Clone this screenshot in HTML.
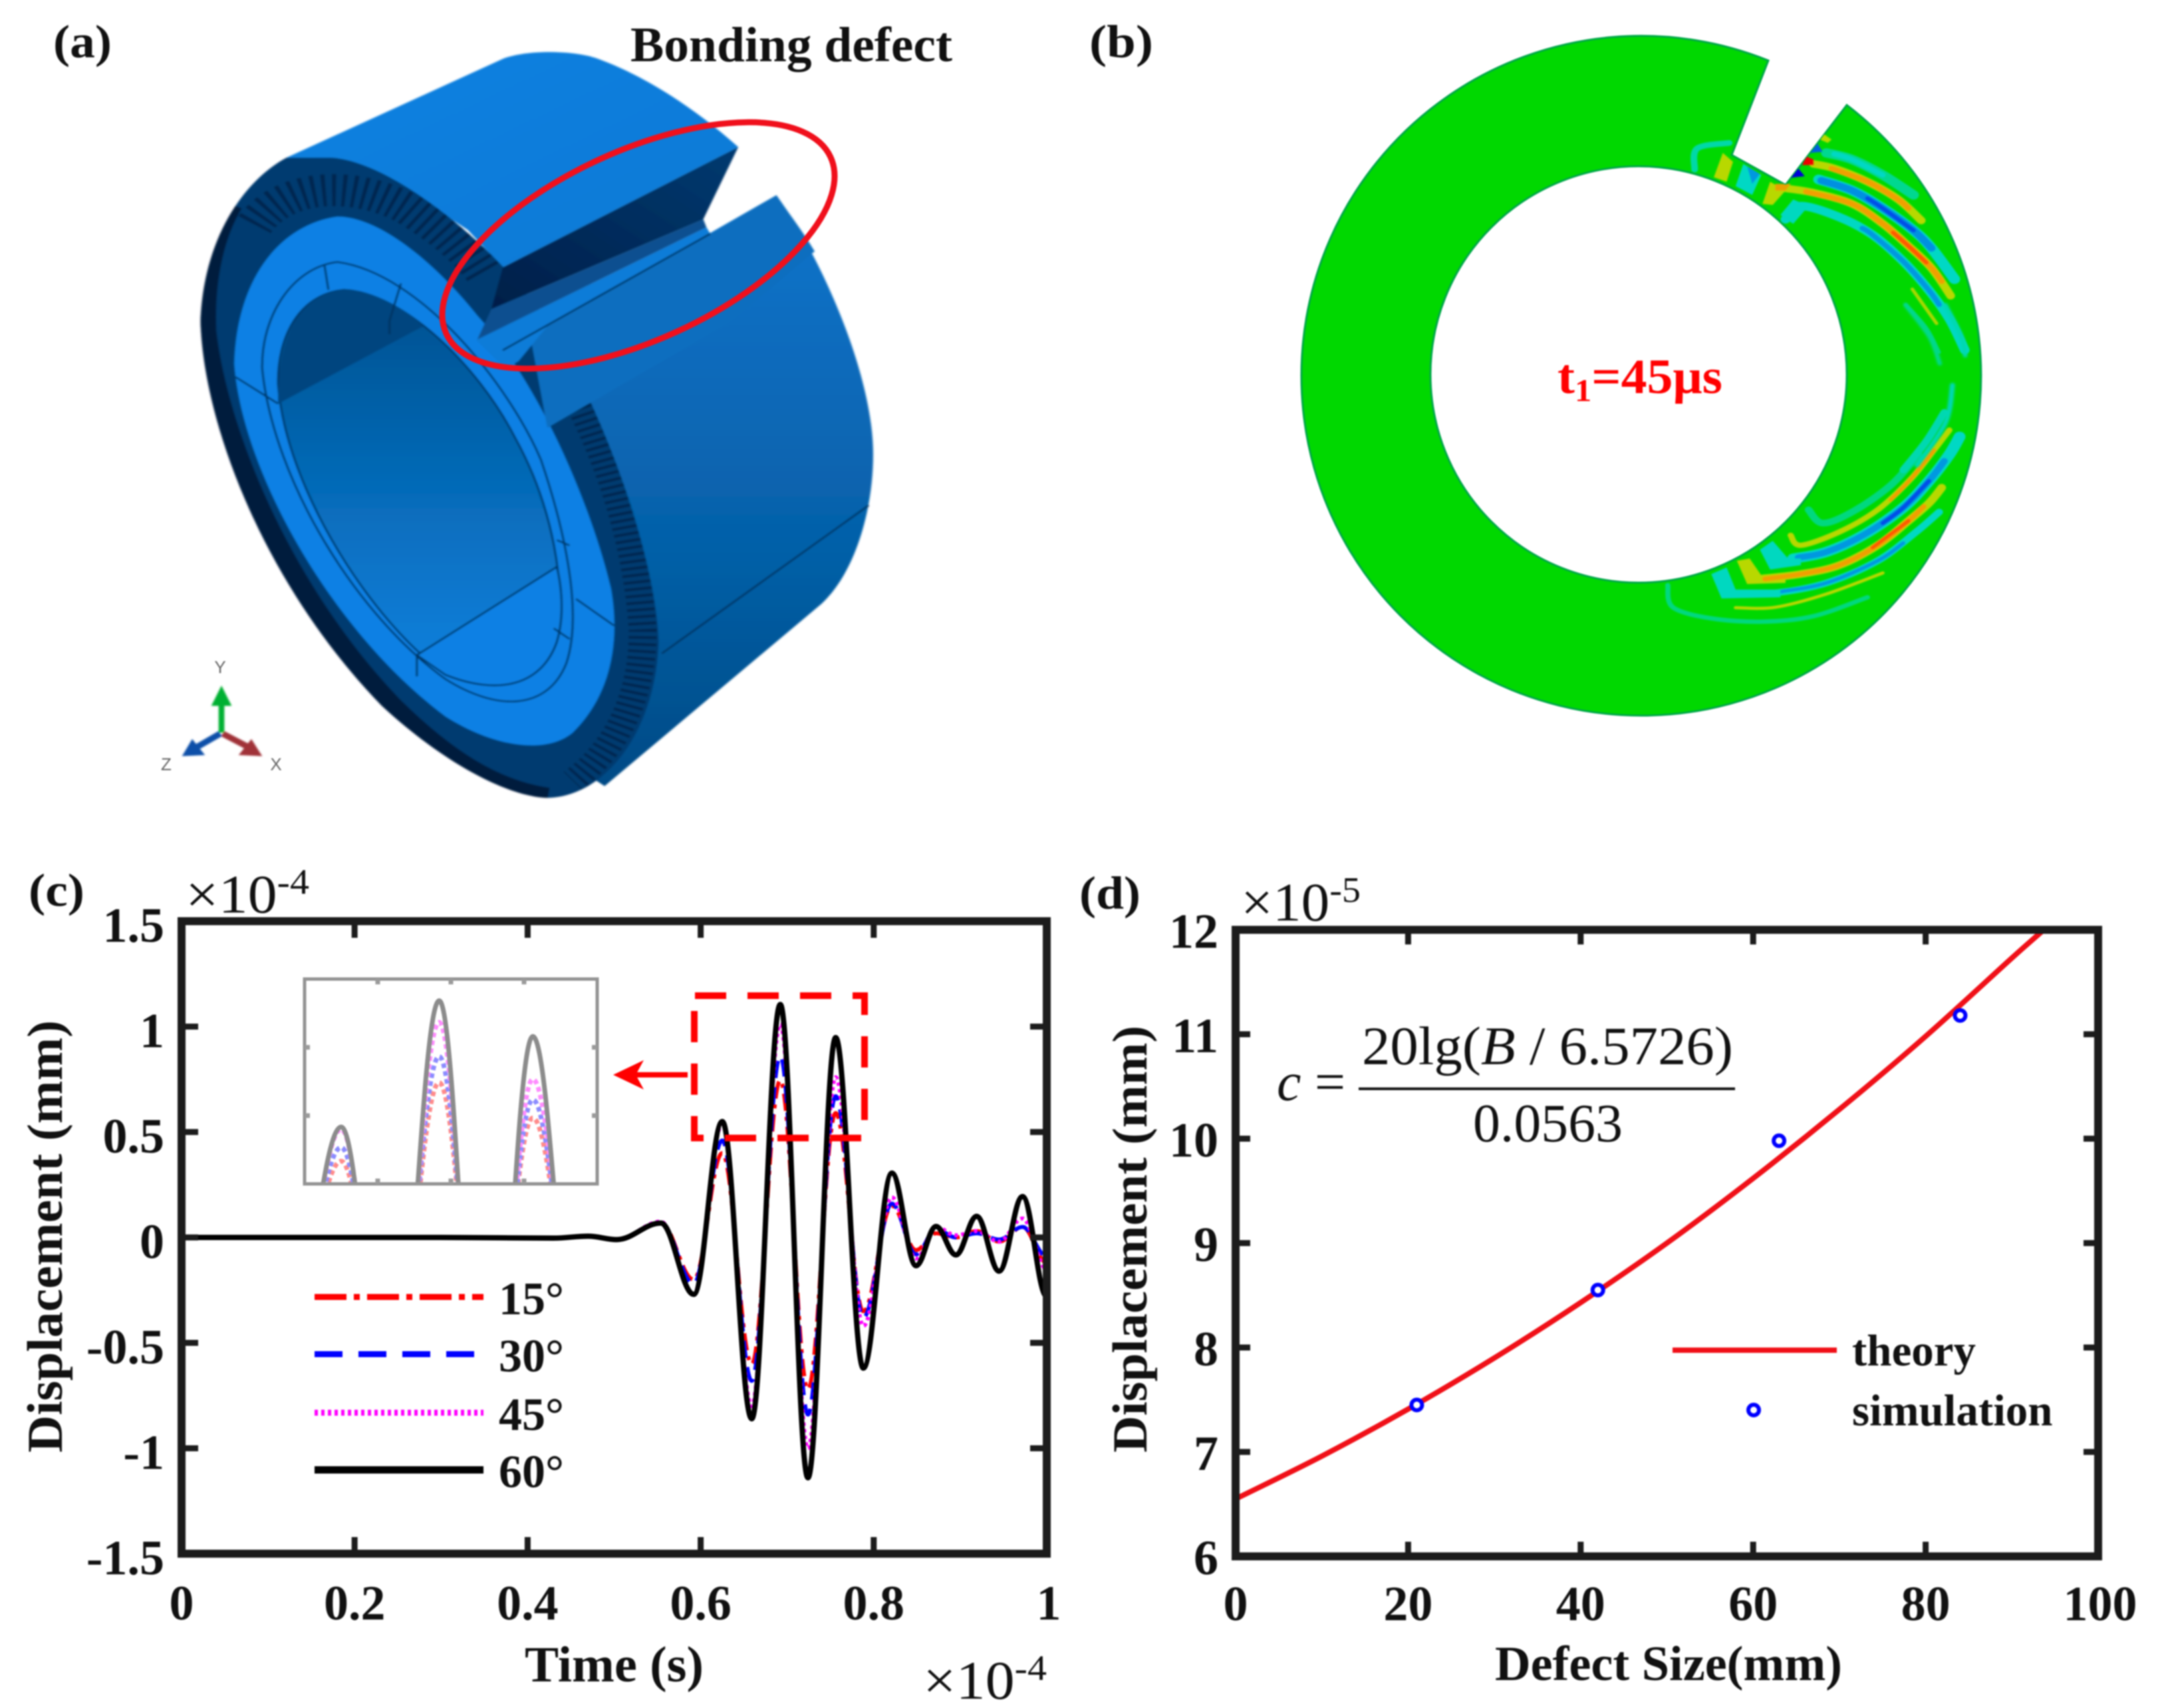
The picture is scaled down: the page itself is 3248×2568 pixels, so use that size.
<!DOCTYPE html>
<html lang="en">
<head>
<meta charset="utf-8">
<title>Bonding defect figure</title>
<style>
html,body{margin:0;padding:0;background:#fff;width:3248px;height:2568px;overflow:hidden}
svg{display:block;filter:blur(1px)}
text{font-family:"Liberation Serif","Times New Roman",serif;fill:#111}
.b{font-weight:bold}
</style>
</head>
<body>
<svg id="fig" xmlns="http://www.w3.org/2000/svg" width="3248" height="2568" viewBox="0 0 3248 2568">
<defs>
<linearGradient id="gBody" x1="0" y1="0" x2="0" y2="1"><stop offset="0" stop-color="#0b74cc"/><stop offset=".6" stop-color="#0660a8"/><stop offset="1" stop-color="#004a85"/></linearGradient>
<linearGradient id="gTop" x1="0" y1="0" x2="1" y2="1"><stop offset="0" stop-color="#0a82e2"/><stop offset="1" stop-color="#0a78d4"/></linearGradient>
<linearGradient id="gBore" x1="0" y1="0" x2="0" y2="1"><stop offset="0" stop-color="#04508f"/><stop offset=".45" stop-color="#0668b4"/><stop offset="1" stop-color="#0a82e0"/></linearGradient>
<linearGradient id="gNotch" x1="0" y1="1" x2="1" y2="0"><stop offset="0" stop-color="#001e48"/><stop offset="1" stop-color="#053a70"/></linearGradient>
<clipPath id="ringClip"><path clip-rule="evenodd" d="M2777,158 A511,511 0 1 1 2659,91 L2604,233 L2685,278 Z M2151,563 A313,313 0 1 0 2777,563 A313,313 0 1 0 2151,563 Z"/></clipPath>
<clipPath id="insetClip"><rect x="458" y="1472" width="440" height="308"/></clipPath>
<clipPath id="rimClip"><path d="M450,295 C380,340 320,450 315,600 C320,800 420,1100 600,1320 C700,1430 800,1490 860,1492 C950,1490 1030,1370 1035,1200 C1030,1050 960,800 870,620 C800,480 620,300 520,295 Z"/></clipPath>
<filter id="soft2" x="-5%" y="-5%" width="110%" height="110%"><feGaussianBlur stdDeviation="2"/></filter>
<filter id="soft1" x="-5%" y="-5%" width="110%" height="110%"><feGaussianBlur stdDeviation="1.4"/></filter>
</defs>

<!-- Panel (a) -->
<g id="panel-a" transform="scale(.957 .804)" filter="url(#soft1)">
  <path fill="url(#gBody)" d="M860,610 L1220,365 C1290,480 1372,700 1372,850 C1372,950 1345,1070 1290,1130 L950,1470 L860,1400 L870,640 Z"/>
  <path d="M1365,945 L1040,1222" stroke="#03325f" stroke-width="3" fill="none"/>
  <path fill="url(#gTop)" d="M450,295 L790,110 C830,92 900,95 935,108 C1000,135 1080,190 1160,275 L790,500 L735,430 L620,340 L520,298 Z"/>
  <path fill="#043a70" d="M450,295 C380,340 320,450 315,600 C320,800 420,1100 600,1320 C700,1430 800,1490 860,1492 C950,1490 1030,1370 1035,1200 C1030,1050 960,800 870,620 C800,480 620,300 520,295 Z"/>
  <g clip-path="url(#rimClip)">
    <path fill="none" stroke="#001a3c" stroke-width="44" d="M360,380 C325,450 315,540 318,620 C335,800 430,1095 610,1320 C690,1415 770,1480 860,1495"/>
    <path fill="none" stroke="#02284f" stroke-width="44" stroke-dasharray="5 8" d="M880,690 C950,830 1000,1000 1010,1180 C1010,1300 970,1400 900,1460"/>
    <path fill="none" stroke="#02284f" stroke-width="60" stroke-dasharray="6 10" d="M400,420 C450,340 560,340 640,390 C680,420 720,450 760,510"/>
  </g>
  <path fill="#0a80e4" d="M530,405 C440,420 372,520 368,680 C380,880 520,1180 700,1340 C780,1400 860,1410 900,1370 C960,1300 975,1200 960,1100 C930,950 850,720 750,590 C690,500 600,405 530,405 Z"/>
  <path fill="#0a80e4" stroke="#03325f" stroke-width="3" d="M530,490 C460,500 410,590 412,690 C430,900 560,1150 700,1270 C780,1330 860,1330 890,1240 C915,1150 890,1000 850,860 C800,720 660,510 530,490 Z"/>
  <path fill="url(#gBore)" stroke="#03325f" stroke-width="3" d="M540,542 C470,550 435,630 437,720 C450,920 590,1170 700,1260 C780,1300 850,1285 875,1200 C890,1100 870,950 810,820 C750,680 630,545 540,542 Z"/>
  <path fill="#04457f" d="M437,755 L665,610 C630,570 580,542 540,542 C470,550 435,630 437,755 Z"/>
  <path fill="#0a80e4" stroke="#03325f" stroke-width="3" d="M655,1225 L875,1060 C885,1110 885,1160 875,1200 C850,1285 780,1300 700,1262 Z"/>
  <path fill="none" stroke="#03325f" stroke-width="3" d="M370,705 L437,755 M510,497 L516,542 M630,530 L612,600 M612,600 L612,625 M875,1010 L895,1020 M655,1225 L655,1265 M870,1175 L895,1195 M905,1120 L965,1170"/>
  <path fill="#043a70" d="M860,610 L815,670 L880,720 L905,660 Z"/>
  <path fill="url(#gNotch)" d="M790,500 L1160,275 L1105,410 L772,578 Z"/>
  <path fill="#0a4f90" d="M772,578 L1105,410 L1110,425 L750,635 Z"/>
  <path fill="#0a6ebf" d="M860,610 L1220,365 C1240,400 1260,430 1280,470 L1150,600 L860,800 L835,640 Z"/>
  <path fill="#0a7cd8" d="M748,636 L1110,425 L1116,437 L1220,365 L860,610 L815,675 L795,690 Z"/>
  <path fill="none" stroke="#03325f" stroke-width="3" d="M790,655 L1116,437"/>
  <g>
    <line x1="348" y1="1370" x2="348" y2="1300" stroke="#00b030" stroke-width="9"/>
    <path d="M348,1282 L364,1320 L332,1320 Z" fill="#00b030"/>
    <line x1="350" y1="1372" x2="395" y2="1400" stroke="#a03038" stroke-width="11"/>
    <path d="M412,1414 L375,1412 L395,1382 Z" fill="#a03038"/>
    <line x1="346" y1="1372" x2="305" y2="1400" stroke="#104fa8" stroke-width="11"/>
    <path d="M286,1414 L322,1412 L302,1382 Z" fill="#104fa8"/>
  </g>
</g>
<text x="331" y="1012" font-size="26" text-anchor="middle" style="font-family:'Liberation Sans',sans-serif;fill:#666">Y</text>
<text x="250" y="1158" font-size="26" text-anchor="middle" style="font-family:'Liberation Sans',sans-serif;fill:#666">Z</text>
<text x="415" y="1158" font-size="26" text-anchor="middle" style="font-family:'Liberation Sans',sans-serif;fill:#666">X</text>
<ellipse cx="960" cy="369" rx="318" ry="142" fill="none" stroke="#f0101c" stroke-width="9" transform="rotate(-24.7 960 369)"/>
<text class="b" x="80" y="86" font-size="70" textLength="88" lengthAdjust="spacingAndGlyphs">(a)</text>
<text class="b" x="948" y="92" font-size="74" textLength="484" lengthAdjust="spacingAndGlyphs">Bonding defect</text>

<!-- Panel (b) -->
<g id="panel-b">
  <path fill="#00d800" stroke="#00a848" stroke-width="3" fill-rule="evenodd" d="M2777,158 A511,511 0 1 1 2659,91 L2604,233 L2685,278 Z M2151,563 A313,313 0 1 0 2777,563 A313,313 0 1 0 2151,563 Z"/>
  <g clip-path="url(#ringClip)" fill="none" stroke-linejoin="round" stroke-linecap="round">
    <g class="smooth" filter="url(#soft2)" transform="translate(2400 130) scale(.385 .333)">
      <path stroke="#00d890" stroke-width="42" d="M900,300 L1000,330 L1120,400 L1240,490"/>
      <path stroke="#00d8c4" stroke-width="22" d="M930,305 L1000,330 L1120,400"/>
      <path stroke="#b8d800" stroke-width="34" d="M850,350 L930,370 L1060,430 L1180,510 L1270,605"/>
      <path stroke="#f0a000" stroke-width="24" d="M920,370 L1060,430 L1180,510 L1220,550"/>
      <path stroke="#00d8c4" stroke-width="44" d="M870,420 L1000,470 L1120,550 L1240,650 L1310,730 L1400,870"/>
      <path stroke="#0090e0" stroke-width="32" d="M880,425 L1000,470 L1120,550 L1240,650 L1310,730"/>
      <path stroke="#0050e8" stroke-width="18" d="M1060,505 L1120,550 L1240,650"/>
      <path stroke="#b8d800" stroke-width="34" d="M740,460 L850,480 L1000,530 L1120,620 L1220,720 L1310,820 L1385,945"/>
      <path stroke="#f0a000" stroke-width="24" d="M820,475 L1000,530 L1120,620 L1220,720 L1310,820 L1350,880"/>
      <path stroke="#ff5a00" stroke-width="18" d="M1160,660 L1220,720 L1290,795"/>
      <path stroke="#00d8c4" stroke-width="38" d="M740,600 L800,540 L950,590 L1080,670 L1200,790 L1300,920 L1380,1050 L1440,1190"/>
      <path stroke="#0098e0" stroke-width="22" d="M1040,640 L1080,670 L1200,790 L1300,920 L1340,985"/>
      <path stroke="#a8d800" stroke-width="14" d="M1235,915 L1330,1070"/>
      <path stroke="#00d880" stroke-width="14" d="M1210,985 L1290,1090 L1340,1200"/>
      <path fill="#b8d800" stroke="none" d="M495,300 L535,340 L510,430 L460,410 Z"/>
      <path fill="#b8d800" stroke="none" d="M680,430 L740,470 L690,535 L650,530 Z"/>
      <path fill="#e8a000" stroke="none" d="M700,440 L760,440 L740,470 L700,470 Z"/>
      <path fill="#00d8c4" stroke="none" d="M575,350 L645,400 L610,490 L545,450 Z"/>
      <path fill="#0098e0" stroke="none" d="M590,360 L640,395 L610,440 Z"/>
      <path stroke="#00d8a8" stroke-width="26" d="M385,375 L395,280 L520,255"/>
      <path fill="#00d8c0" stroke="none" d="M720,580 L770,510 L830,540 L770,620 Z"/>
      <path fill="#b8d800" stroke="none" d="M890,215 L920,240 L905,255 L875,240 Z"/>
      <path fill="#0060e0" stroke="none" d="M865,258 L885,295 L835,300 Z"/>
      <path fill="#f00000" stroke="none" d="M820,315 L850,330 L850,355 L805,355 Z"/>
      <path fill="#0000d8" stroke="none" d="M790,370 L815,405 L760,412 Z"/>
    </g>
    <g class="smooth" filter="url(#soft2)" transform="translate(2400 620) scale(.385 .333)">
      <path stroke="#00d880" stroke-width="30" d="M830,440 L885,500 L1000,450 L1150,330 L1260,190"/>
      <path stroke="#00d8b0" stroke-width="30" d="M1200,260 L1290,130 L1360,0"/>
      <path stroke="#b8d800" stroke-width="24" d="M760,555 L800,600 L950,540 L1100,440 L1230,300 L1320,170 L1380,80"/>
      <path stroke="#f0a000" stroke-width="16" d="M1150,395 L1230,300 L1320,170"/>
      <path stroke="#00d8c4" stroke-width="46" d="M770,660 L900,630 L1050,550 L1200,430 L1300,310 L1380,190 L1420,110"/>
      <path stroke="#0098e0" stroke-width="28" d="M790,655 L900,630 L1050,550 L1200,430 L1300,310 L1360,220"/>
      <path stroke="#0050e8" stroke-width="18" d="M1120,500 L1200,430 L1300,310"/>
      <path fill="#00d8c0" stroke="none" d="M640,620 L690,580 L750,660 L800,660 L800,690 L680,710 Z"/>
      <path stroke="#b8d800" stroke-width="34" d="M650,750 L800,730 L950,690 L1100,600 L1220,490 L1300,410 L1350,340"/>
      <path fill="#b8d800" stroke="none" d="M550,670 L600,660 L645,735 L740,740 L740,770 L590,775 Z"/>
      <path stroke="#f0a000" stroke-width="22" d="M660,752 L800,730 L950,690 L1100,600 L1220,490 L1280,425"/>
      <path stroke="#ff5a00" stroke-width="16" d="M1080,610 L1220,490"/>
      <path stroke="#00d8c4" stroke-width="30" d="M520,820 L700,815 L900,770 L1100,670 L1250,540 L1340,450"/>
      <path stroke="#0098e0" stroke-width="16" d="M720,810 L900,770 L1100,670 L1200,590"/>
      <path fill="#00d8c0" stroke="none" d="M450,730 L510,700 L545,800 L720,800 L720,835 L490,840 Z"/>
      <path stroke="#b8d800" stroke-width="14" d="M545,882 L700,880 L900,820 L1120,725"/>
      <path stroke="#00d880" stroke-width="20" d="M280,780 L300,880 L450,930 L650,945 L850,920 L1060,835"/>
    </g>
    <g class="smooth" filter="url(#soft2)" transform="translate(1600 0) scale(.957 .804)">
      <path stroke="#00d890" stroke-width="7" d="M1322,570 L1360,630 L1376,680"/>
      <path stroke="#00d8b0" stroke-width="7" d="M1385,570 L1410,630 L1416,665"/>
      <path stroke="#00d8b8" stroke-width="8" d="M1396,720 L1385,790 L1340,870"/>
    </g>
  </g>
</g>
<text class="b" x="1638" y="86" font-size="70" textLength="96" lengthAdjust="spacingAndGlyphs">(b)</text>
<text class="b" x="2342" y="591" font-size="74" textLength="248" lengthAdjust="spacingAndGlyphs" style="fill:#f00">t<tspan font-size="48" dy="12">1</tspan><tspan dy="-12">=45μs</tspan></text>

<!-- Panel (c) -->
<g id="panel-c"></g>
<text class="b" x="43" y="1362" font-size="70" textLength="84" lengthAdjust="spacingAndGlyphs">(c)</text>
<text x="279" y="1372" font-size="82" textLength="186" lengthAdjust="spacingAndGlyphs">×10<tspan font-size="54" dy="-28">-4</tspan></text>
<text x="1388" y="2554" font-size="82" textLength="186" lengthAdjust="spacingAndGlyphs">×10<tspan font-size="54" dy="-28">-4</tspan></text>
<text class="b" x="789" y="2528" font-size="76" textLength="269" lengthAdjust="spacingAndGlyphs">Time (s)</text>
<text class="b" transform="translate(93 2184) rotate(-90)" font-size="75" textLength="650" lengthAdjust="spacingAndGlyphs">Displacement (mm)</text>

<!-- Panel (d) -->
<g id="panel-d"></g>
<text class="b" x="1623" y="1366" font-size="70" textLength="92" lengthAdjust="spacingAndGlyphs">(d)</text>
<text x="1866" y="1384" font-size="82" textLength="180" lengthAdjust="spacingAndGlyphs">×10<tspan font-size="54" dy="-28">-5</tspan></text>
<text class="b" x="2248" y="2526" font-size="74" textLength="522" lengthAdjust="spacingAndGlyphs">Defect Size(mm)</text>
<text class="b" transform="translate(1724 2184) rotate(-90)" font-size="74" textLength="642" lengthAdjust="spacingAndGlyphs">Displacement (mm)</text>
<g>
  <text x="1920" y="1654" font-size="82"><tspan font-style="italic">c</tspan> =</text>
  <text x="2048" y="1600" font-size="82" textLength="558" lengthAdjust="spacingAndGlyphs">20lg(<tspan font-style="italic">B</tspan> / 6.5726)</text>
  <line x1="2043" y1="1637" x2="2609" y2="1637" stroke="#111" stroke-width="4"/>
  <text x="2215" y="1716" font-size="82" textLength="225" lengthAdjust="spacingAndGlyphs">0.0563</text>
</g>

<script>
// ---- Panel (c) data ----
const timeKnots = [0, 0.30, 0.43, 0.47, 0.503, 0.554, 0.592, 0.625, 0.659, 0.692, 0.724, 0.756, 0.788, 0.821, 0.849, 0.872, 0.895, 0.919, 0.945, 0.972, 1.0];
const series15 = [0, 0, -0.003, 0.006, -0.01, 0.068, -0.20, 0.40, -0.60, 0.745, -0.72, 0.59, -0.35, 0.15, -0.06, 0.02, 0.00, 0.03, -0.02, 0.05, -0.12];
const series30 = [0, 0, -0.003, 0.006, -0.01, 0.068, -0.22, 0.46, -0.68, 0.86, -0.84, 0.67, -0.38, 0.16, -0.08, 0.04, 0.00, 0.02, -0.01, 0.05, -0.09];
const series45 = [0, 0, -0.003, 0.006, -0.01, 0.075, -0.27, 0.54, -0.80, 1.01, -1.00, 0.76, -0.42, 0.19, -0.10, 0.05, 0.01, 0.03, -0.02, 0.09, -0.15];
const series60 = [0, 0, -0.003, 0.006, -0.01, 0.068, -0.27, 0.55, -0.86, 1.105, -1.14, 0.948, -0.62, 0.305, -0.134, 0.052, -0.083, 0.10, -0.16, 0.194, -0.28];
const cXTicks = [0, 0.2, 0.4, 0.6, 0.8, 1];
const cXLabels = ['0', '0.2', '0.4', '0.6', '0.8', '1'];
const cYTicks = [1.5, 1, 0.5, 0, -0.5, -1, -1.5];
const cYLabels = ['1.5', '1', '0.5', '0', '-0.5', '-1', '-1.5'];
const cLegendLabels = ['15°', '30°', '45°', '60°'];
// ---- Panel (d) data ----
const sizeKnots = [0, 10, 20, 30, 40, 50, 60, 70, 80, 90, 93.7];
const theoryValues = [6.55, 6.96, 7.41, 7.90, 8.43, 9.00, 9.62, 10.28, 10.98, 11.73, 12.0];
const simSizes = [21, 42, 63, 84];
const simValues = [7.45, 8.55, 9.98, 11.18];
const dXTicks = [0, 20, 40, 60, 80, 100];
const dYTicks = [12, 11, 10, 9, 8, 7, 6];
const dLegendLabels = ['theory', 'simulation'];

const NS = 'http://www.w3.org/2000/svg';
function mk(tag, attrs, parent) {
  const el = document.createElementNS(NS, tag);
  for (const k in attrs) el.setAttribute(k, attrs[k]);
  parent.appendChild(el);
  return el;
}
function linear(d0, d1, r0, r1) { return v => r0 + (v - d0) * (r1 - r0) / (d1 - d0); }
function smoothPath(ts, vs, sx, sy) {
  let d = 'M' + sx(ts[0]).toFixed(1) + ',' + sy(vs[0]).toFixed(1);
  for (let i = 1; i < ts.length; i++) {
    const x0 = sx(ts[i - 1]), x1 = sx(ts[i]), y0 = sy(vs[i - 1]), y1 = sy(vs[i]);
    const h = (x1 - x0) * 0.37;
    d += 'C' + (x0 + h).toFixed(1) + ',' + y0.toFixed(1) + ' ' + (x1 - h).toFixed(1) + ',' + y1.toFixed(1) + ' ' + x1.toFixed(1) + ',' + y1.toFixed(1);
  }
  return d;
}
function catmull(pts) {
  let d = 'M' + pts[0][0].toFixed(1) + ',' + pts[0][1].toFixed(1);
  for (let i = 0; i < pts.length - 1; i++) {
    const p0 = pts[Math.max(i - 1, 0)], p1 = pts[i], p2 = pts[i + 1], p3 = pts[Math.min(i + 2, pts.length - 1)];
    d += 'C' + (p1[0] + (p2[0] - p0[0]) / 6).toFixed(1) + ',' + (p1[1] + (p2[1] - p0[1]) / 6).toFixed(1) + ' ' +
      (p2[0] - (p3[0] - p1[0]) / 6).toFixed(1) + ',' + (p2[1] - (p3[1] - p1[1]) / 6).toFixed(1) + ' ' +
      p2[0].toFixed(1) + ',' + p2[1].toFixed(1);
  }
  return d;
}
// round off the wave-front polylines in panel (b)
document.querySelectorAll('g.smooth path').forEach(p => {
  if (p.getAttribute('stroke') === 'none') return;
  const pts = p.getAttribute('d').replace(/[ML]/g, ' ').trim().split(/\s+/).map(s => s.split(',').map(Number));
  p.setAttribute('d', catmull(pts));
});

const pc = document.getElementById('panel-c');
const pd = document.getElementById('panel-d');
const cx = linear(0, 1, 273, 1574), cy = linear(-1.5, 1.5, 2336, 1385);
const ix = linear(0.6, 0.8, 458, 898), iy = linear(0.3, 1.2, 1780, 1472);
const dx = linear(0, 100, 1858, 3155), dy = linear(6, 12, 2340, 1398);
const seriesAll = [series15, series30, series45, series60];
const seriesColor = ['#ff0000', '#0000ff', '#ff00ff', '#000000'];
const seriesDash = ['26 9 6 9', '26 14', '5 5', 'none'];
const seriesWidth = [6, 6, 6, 8];

// main curves
seriesAll.forEach((vals, i) => {
  const p = mk('path', {d: smoothPath(timeKnots, vals, cx, cy), fill: 'none', stroke: seriesColor[i], 'stroke-width': seriesWidth[i], 'stroke-dasharray': seriesDash[i]}, pc);
  
  
});

// inset
const insetG = mk('g', {opacity: 0.45}, pc);


const insetCurves = mk('g', {'clip-path': 'url(#insetClip)'}, insetG);


seriesAll.forEach((vals, i) => {
  const p = mk('path', {d: smoothPath(timeKnots, vals, ix, iy), fill: 'none', stroke: seriesColor[i], 'stroke-width': 7, 'stroke-dasharray': i === 3 ? 'none' : '7 5'}, insetCurves);
  
  
});
const insetFrame = mk('rect', {x: 458, y: 1472, width: 440, height: 308, fill: 'none', stroke: '#111', 'stroke-width': 5}, insetG);


[0.65, 0.7, 0.75].forEach(t => {
  const a = mk('line', {x1: ix(t), x2: ix(t), y1: 1472, y2: 1480, stroke: '#222', 'stroke-width': 7}, insetG);
  
  
  const b = mk('line', {x1: ix(t), x2: ix(t), y1: 1780, y2: 1772, stroke: '#222', 'stroke-width': 7}, insetG);
  
  
});
[0.6, 0.9].forEach(v => {
  const a = mk('line', {x1: 458, x2: 466, y1: iy(v), y2: iy(v), stroke: '#222', 'stroke-width': 7}, insetG);
  
  
  const b = mk('line', {x1: 898, x2: 890, y1: iy(v), y2: iy(v), stroke: '#222', 'stroke-width': 7}, insetG);
  
  
});

// red zoom box and arrow
const zoomBox = mk('path', {d: 'M1045,1497 H1300 V1711 H1044 V1497', fill: 'none', stroke: '#ff0000', 'stroke-width': 10, 'stroke-dasharray': '47 32'}, pc);


const arrowLine = mk('line', {x1: 1034, y1: 1616, x2: 940, y2: 1616, stroke: '#ff0000', 'stroke-width': 8}, pc);


const arrowHead = mk('path', {d: 'M922,1616 L968,1594 L956,1616 L968,1638 Z', fill: '#ff0000'}, pc);



// c axes
const cFrame = mk('rect', {x: 273, y: 1385, width: 1301, height: 951, fill: 'none', stroke: '#1c1c1c', 'stroke-width': 12}, pc);


cXTicks.forEach((t, i) => {
  const top = mk('line', {x1: cx(t), x2: cx(t), y1: 1385, y2: 1410, stroke: '#1c1c1c', 'stroke-width': 9}, pc);
  
  
  const bot = mk('line', {x1: cx(t), x2: cx(t), y1: 2336, y2: 2311, stroke: '#1c1c1c', 'stroke-width': 9}, pc);
  
  
  const lab = mk('text', {x: cx(t) + (t === 1 ? 3 : 0), y: 2435, 'font-size': 74, 'text-anchor': 'middle', class: 'b'}, pc);
  lab.textContent = cXLabels[i];
  
  
});
cYTicks.forEach((v, i) => {
  const l = mk('line', {x1: 273, x2: 298, y1: cy(v), y2: cy(v), stroke: '#1c1c1c', 'stroke-width': 9}, pc);
  
  
  const r = mk('line', {x1: 1574, x2: 1549, y1: cy(v), y2: cy(v), stroke: '#1c1c1c', 'stroke-width': 9}, pc);
  
  
  const lab = mk('text', {x: 247, y: cy(v) + 31, 'font-size': 74, 'text-anchor': 'end', class: 'b'}, pc);
  lab.textContent = cYLabels[i];
  
  
});

// c legend
const legendY = [1950, 2036, 2124, 2210];
cLegendLabels.forEach((label, i) => {
  const ln = mk('line', {x1: 473, x2: 727, y1: legendY[i], y2: legendY[i], stroke: seriesColor[i], 'stroke-width': seriesWidth[i] + 3, 'stroke-dasharray': i === 0 ? '48 11 9 11' : i === 1 ? '42 24' : seriesDash[i]}, pc);
  
  
  const tx = mk('text', {x: 750, y: legendY[i] + 26, 'font-size': 70, class: 'b'}, pc);
  tx.textContent = label;
  
  
});

// d theory curve and markers
const theoryPts = sizeKnots.map((x, i) => [dx(x), dy(theoryValues[i])]);
const theoryLine = mk('path', {d: catmull(theoryPts), fill: 'none', stroke: '#f01018', 'stroke-width': 8, 'stroke-linejoin': 'round'}, pd);


simSizes.forEach((x, i) => {
  const m = mk('circle', {cx: dx(x), cy: dy(simValues[i]), r: 8, fill: '#fff', stroke: '#0000ff', 'stroke-width': 6}, pd);
  
  
});

// d axes
const dFrame = mk('rect', {x: 1858, y: 1398, width: 1297, height: 942, fill: 'none', stroke: '#1c1c1c', 'stroke-width': 12}, pd);


dXTicks.forEach(t => {
  const top = mk('line', {x1: dx(t), x2: dx(t), y1: 1398, y2: 1420, stroke: '#1c1c1c', 'stroke-width': 9}, pd);
  
  
  const bot = mk('line', {x1: dx(t), x2: dx(t), y1: 2340, y2: 2318, stroke: '#1c1c1c', 'stroke-width': 9}, pd);
  
  
  const lab = mk('text', {x: dx(t) + (t === 100 ? 3 : 0), y: 2436, 'font-size': 74, 'text-anchor': 'middle', class: 'b'}, pd);
  lab.textContent = String(t);
  
  
});
dYTicks.forEach(v => {
  const l = mk('line', {x1: 1858, x2: 1880, y1: dy(v), y2: dy(v), stroke: '#1c1c1c', 'stroke-width': 9}, pd);
  
  
  const r = mk('line', {x1: 3155, x2: 3133, y1: dy(v), y2: dy(v), stroke: '#1c1c1c', 'stroke-width': 9}, pd);
  
  
  const lab = mk('text', {x: 1832, y: dy(v) + 27, 'font-size': 74, 'text-anchor': 'end', class: 'b'}, pd);
  lab.textContent = String(v);
  
  
});

// d legend
const legLine = mk('line', {x1: 2515, x2: 2762, y1: 2030, y2: 2030, stroke: '#f01018', 'stroke-width': 8}, pd);


const legMark = mk('circle', {cx: 2637, cy: 2120, r: 8, fill: '#fff', stroke: '#0000ff', 'stroke-width': 6}, pd);


dLegendLabels.forEach((label, i) => {
  const tx = mk('text', {x: 2785, y: i === 0 ? 2053 : 2143, 'font-size': 67, class: 'b'}, pd);
  tx.textContent = label;
  
  
});
</script>
</svg>
</body>
</html>
